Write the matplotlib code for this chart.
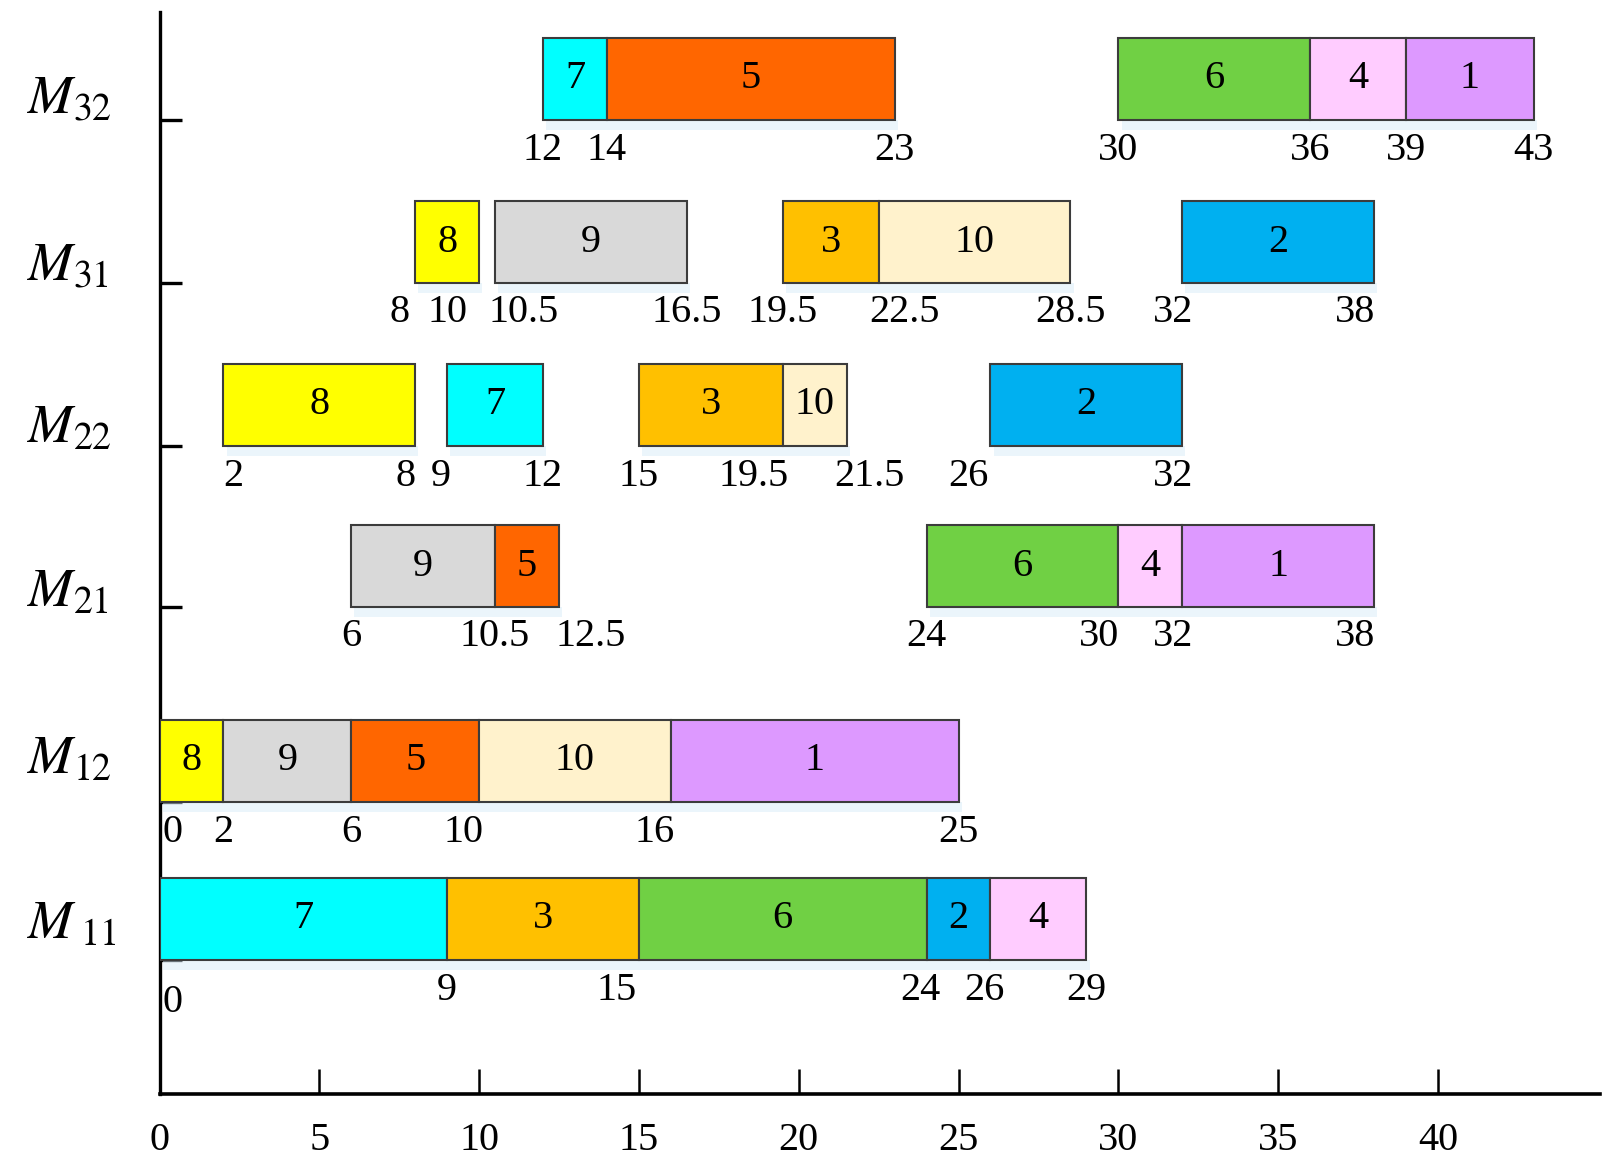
import matplotlib
matplotlib.use("Agg")
import matplotlib.pyplot as plt
import matplotlib.transforms as mtransforms
from matplotlib.patches import Rectangle

plt.rcParams['font.family'] = ['Liberation Serif', 'DejaVu Serif']
plt.rcParams['mathtext.fontset'] = 'stix'

# Schedule per machine: (job, start, end)
m11_tasks = [(7, 0, 9), (3, 9, 15), (6, 15, 24), (2, 24, 26), (4, 26, 29)]
m12_tasks = [(8, 0, 2), (9, 2, 6), (5, 6, 10), (10, 10, 16), (1, 16, 25)]
m21_tasks = [(9, 6, 10.5), (5, 10.5, 12.5), (6, 24, 30), (4, 30, 32), (1, 32, 38)]
m22_tasks = [(8, 2, 8), (7, 9, 12), (3, 15, 19.5), (10, 19.5, 21.5), (2, 26, 32)]
m31_tasks = [(8, 8, 10), (9, 10.5, 16.5), (3, 19.5, 22.5), (10, 22.5, 28.5), (2, 32, 38)]
m32_tasks = [(7, 12, 14), (5, 14, 23), (6, 30, 36), (4, 36, 39), (1, 39, 43)]

# Time marks written under each machine's bars
m11_marks = [0, 9, 15, 24, 26, 29]
m12_marks = [0, 2, 6, 10, 16, 25]
m21_marks = [6, 10.5, 12.5, 24, 30, 32, 38]
m22_marks = [2, 8, 9, 12, 15, 19.5, 21.5, 26, 32]
m31_marks = [8, 10, 10.5, 16.5, 19.5, 22.5, 28.5, 32, 38]
m32_marks = [12, 14, 23, 30, 36, 39, 43]

machines = ['M11', 'M12', 'M21', 'M22', 'M31', 'M32']
machine_labels = [r'$M_{\;11}$', r'$M_{12}$', r'$M_{21}$', r'$M_{22}$', r'$M_{31}$', r'$M_{32}$']
x_ticks = [0, 5, 10, 15, 20, 25, 30, 35, 40]

job_colors = {1: '#DD99FF', 2: '#00B0F0', 3: '#FFC000', 4: '#FFCCFF', 5: '#FF6600',
              6: '#70D044', 7: '#00FFFF', 8: '#FFFF00', 9: '#D9D9D9', 10: '#FFF2CC'}

# layout (pixel units above the time axis)
row_base = [134, 292, 487, 648, 811, 974]
label_base = [155, 320, 487, 651, 814, 981]
bar_h = 82

# small nudges so crowded time marks don't collide
mark_shift = {('M31', 8): -0.5, ('M31', 10): -1.0, ('M31', 10.5): 0.9, ('M31', 22.5): 0.8,
              ('M31', 32): -0.3, ('M31', 38): -0.6,
              ('M22', 2): 0.3, ('M22', 8): -0.3, ('M22', 9): -0.2, ('M22', 19.5): -0.9,
              ('M22', 21.5): 0.7, ('M22', 26): -0.7, ('M22', 32): -0.3,
              ('M21', 12.5): 1.0, ('M21', 30): -0.6, ('M21', 32): -0.3, ('M21', 38): -0.6,
              ('M12', 0): 0.4, ('M12', 10): -0.5, ('M12', 16): -0.5,
              ('M11', 0): 0.4, ('M11', 15): -0.7, ('M11', 24): -0.2, ('M11', 26): -0.2}
mark_drop = {('M11', 0): 42}

tasks_all = [m11_tasks, m12_tasks, m21_tasks, m22_tasks, m31_tasks, m32_tasks]
marks_all = [m11_marks, m12_marks, m21_marks, m22_marks, m31_marks, m32_marks]

fig = plt.figure(figsize=(16.14, 11.66), dpi=100)
ax = fig.add_axes([159.5 / 1614, 72 / 1166, 1440.5 / 1614, 1082 / 1166])
ax.set_xlim(0, 45.07)
ax.set_ylim(0, 1082)

trans = mtransforms.blended_transform_factory(ax.transAxes, ax.transData)

for name, lab, tasks, marks, base, lab_y in zip(machines, machine_labels, tasks_all,
                                                 marks_all, row_base, label_base):
    for job, s, e in tasks:
        # faint glow under the bars
        ax.add_patch(Rectangle((s + 0.1, base - 10), e - s, 10, facecolor='#d8ecf8',
                               edgecolor='none', alpha=0.5, zorder=2))
        ax.add_patch(Rectangle((s, base), e - s, bar_h, facecolor=job_colors[job],
                               edgecolor='#3c3c3c', linewidth=1.5, zorder=3))
        ax.text((s + e) / 2, base + bar_h / 2, str(job), ha='center', va='center',
                fontsize=29, zorder=4)
    for m in marks:
        dx = mark_shift.get((name, m), 0)
        dy = mark_drop.get((name, m), 30)
        ax.text(m + dx, base - dy, f'{m:g}', ha='center', va='center', fontsize=29, zorder=4)
    ax.text(-0.092, lab_y, lab, transform=trans, ha='left', va='baseline', fontsize=39)

for side in ['top', 'right']:
    ax.spines[side].set_visible(False)
ax.spines['left'].set_linewidth(2.4)
ax.spines['bottom'].set_linewidth(2.6)

ax.set_yticks(row_base)
ax.set_yticklabels([])
ax.tick_params(axis='y', direction='in', length=16, width=2.4)

ax.set_xticks(x_ticks)
ax.set_xticklabels([str(t) for t in x_ticks], fontsize=29)
ax.tick_params(axis='x', direction='in', length=18, width=1.8, pad=20)

plt.savefig("out.png", dpi=100)
